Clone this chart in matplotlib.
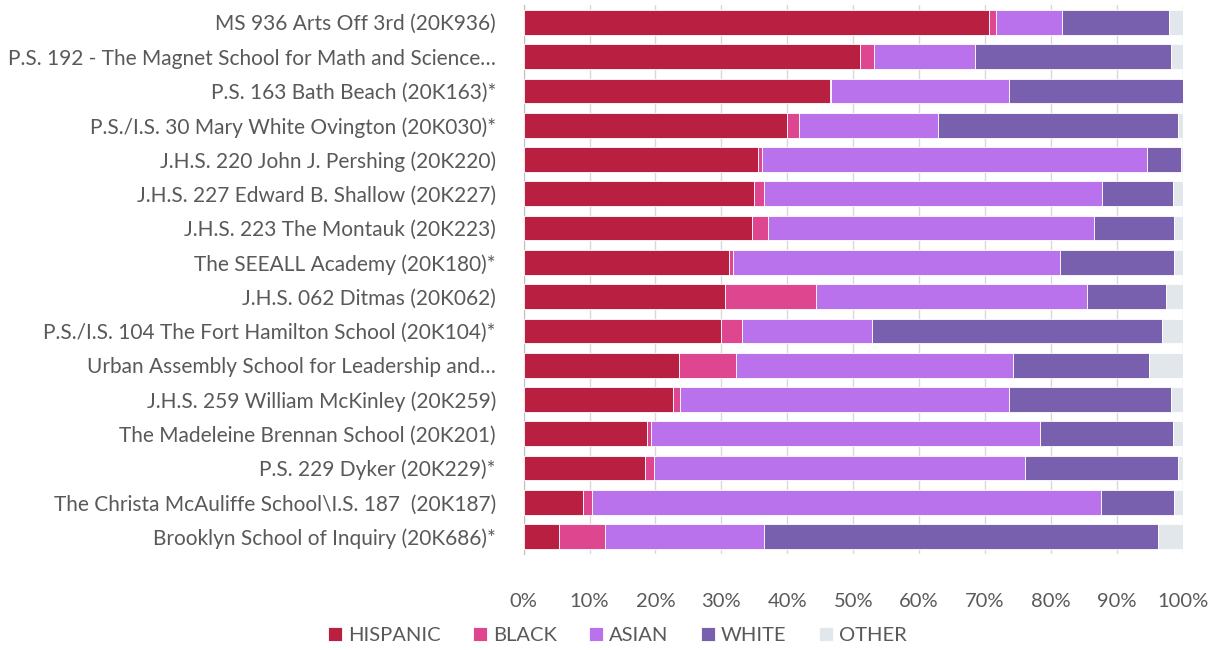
import numpy as np
import matplotlib.pyplot as plt
from matplotlib.ticker import PercentFormatter

schools = [
    'MS 936 Arts Off 3rd (20K936)',
    'P.S. 192 - The Magnet School for Math and Science\u2026',
    'P.S. 163 Bath Beach (20K163)*',
    'P.S./I.S. 30 Mary White Ovington (20K030)*',
    'J.H.S. 220 John J. Pershing (20K220)',
    'J.H.S. 227 Edward B. Shallow (20K227)',
    'J.H.S. 223 The Montauk (20K223)',
    'The SEEALL Academy (20K180)*',
    'J.H.S. 062 Ditmas (20K062)',
    'P.S./I.S. 104 The Fort Hamilton School (20K104)*',
    'Urban Assembly School for Leadership and\u2026',
    'J.H.S. 259 William McKinley (20K259)',
    'The Madeleine Brennan School (20K201)',
    'P.S. 229 Dyker (20K229)*',
    'The Christa McAuliffe School\\I.S. 187  (20K187)',
    'Brooklyn School of Inquiry (20K686)*',
]

hispanic = [70.6, 51.1, 46.4, 40.0, 35.6, 35.0, 34.6, 31.1, 30.5, 29.9, 23.6, 22.7, 18.7, 18.4, 9.0, 5.3]
black    = [1.0, 2.0, 0.2, 1.8, 0.5, 1.4, 2.5, 0.7, 13.8, 3.3, 8.6, 1.0, 0.6, 1.4, 1.3, 7.1]
asian    = [10.1, 15.4, 27.1, 21.0, 58.5, 51.4, 49.5, 49.5, 41.1, 19.7, 42.0, 49.9, 59.0, 56.2, 77.3, 24.1]
white    = [16.2, 29.7, 26.3, 36.5, 5.1, 10.7, 12.1, 17.4, 12.0, 44.0, 20.6, 24.6, 20.2, 23.3, 11.1, 59.8]
other    = [2.1, 1.8, 0.0, 0.7, 0.3, 1.5, 1.3, 1.3, 2.6, 3.1, 5.2, 1.8, 1.5, 0.7, 1.3, 3.7]

groups = ['HISPANIC', 'BLACK', 'ASIAN', 'WHITE', 'OTHER']
colors = ['#B81F40', '#DF4690', '#B972EC', '#7860AE', '#E1E7EA']
series = [hispanic, black, asian, white, other]

txt = '#595959'
plt.rcParams['font.family'] = ['Lato', 'DejaVu Sans']

fig = plt.figure(figsize=(12.15, 6.5), dpi=100)
ax = fig.add_axes([0.431, 0.148, 0.5425, 0.844])

y = np.arange(len(schools))
left = np.zeros(len(schools))
for name, vals, c in zip(groups, series, colors):
    vals = np.array(vals)
    ax.barh(y, vals, left=left, height=0.72, color=c, edgecolor='white',
            linewidth=0.6, label=name, zorder=3)
    left += vals

ax.set_xlim(0, 100)
ax.set_ylim(len(schools) - 0.5, -0.5)
ax.set_yticks(y)
ax.set_yticklabels(schools, fontsize=15, color=txt)
ax.set_xticks(np.arange(0, 101, 10))
ax.xaxis.set_major_formatter(PercentFormatter(decimals=0))
ax.tick_params(axis='x', labelsize=14.5, labelcolor=txt, length=0, pad=28)
ax.tick_params(axis='y', length=0, pad=20)
ax.grid(axis='x', color='#D9D9D9', linewidth=1, zorder=0)
for s in ['top', 'right', 'bottom']:
    ax.spines[s].set_visible(False)
ax.spines['left'].set_color('#BFBFBF')

fig.legend(loc='center', bbox_to_anchor=(0.508, 0.023), ncol=5, frameon=False,
           fontsize=14.5, labelcolor=txt, handlelength=0.7, handleheight=0.7,
           handletextpad=0.3, columnspacing=1.6)

fig.savefig('out.png', dpi=100)
